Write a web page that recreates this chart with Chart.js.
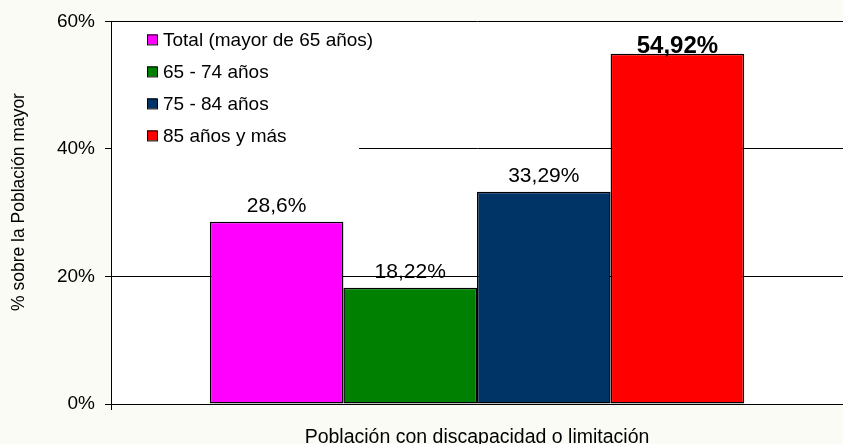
<!DOCTYPE html>
<html>
<head>
<meta charset="utf-8">
<script src="https://cdn.jsdelivr.net/npm/chart.js@4"></script>
<style>
    html, body { margin: 0; padding: 0; background: #fbfbf6; }
    canvas { display: block; }
</style>
</head>
<body>
<canvas id="chart" width="843" height="444"></canvas>
<script>
// Datos
const categories = ['Población con discapacidad o limitación'];
const seriesNames = ['Total (mayor de 65 años)', '65 - 74 años', '75 - 84 años', '85 años y más'];
const seriesValues = [28.6, 18.22, 33.29, 54.92];
const seriesColors = ['#ff00ff', '#008000', '#003366', '#ff0000'];
const yTicks = [0, 20, 40, 60];
const yTitle = '% sobre la Población mayor';

const FONT = "'Liberation Sans', Arial, sans-serif";
Chart.defaults.font.family = FONT;
Chart.defaults.color = '#000';

function formatValue(v) { return v.toString().replace('.', ',') + '%'; }

// Fondo blanco del área de trazado
const plotBackground = {
    id: 'plotBackground',
    beforeDraw(chart) {
        const { ctx, chartArea: a } = chart;
        ctx.save();
        ctx.fillStyle = '#ffffff';
        ctx.fillRect(a.left, a.top, a.right - a.left, a.bottom - a.top);
        ctx.restore();
    }
};

// Leyenda dentro del área
const insideLegend = {
    id: 'insideLegend',
    beforeDatasetsDraw(chart) {
        const { ctx, chartArea: a } = chart;
        ctx.save();
        ctx.fillStyle = '#ffffff';
        ctx.fillRect(a.left + 1, a.top + 2, 247, 152);
        ctx.font = '19px ' + FONT;
        ctx.textBaseline = 'middle';
        ctx.textAlign = 'left';
        chart.data.datasets.forEach((ds, i) => {
            const y = a.top + 18 + i * 32;
            ctx.fillStyle = ds.backgroundColor;
            ctx.fillRect(a.left + 36, y - 5, 10, 10);
            ctx.strokeStyle = '#000';
            ctx.lineWidth = 1;
            ctx.strokeRect(a.left + 36.5, y - 4.5, 10, 10);
            ctx.fillStyle = '#000';
            ctx.fillText(ds.label, a.left + 52, y + 1);
        });
        ctx.restore();
    }
};

// Etiquetas de valores y título del eje Y
const valueLabels = {
    id: 'valueLabels',
    afterDatasetsDraw(chart) {
        const { ctx } = chart;
        const maxVal = Math.max(...seriesValues);
        ctx.save();
        ctx.fillStyle = '#000';
        ctx.textAlign = 'center';
        ctx.textBaseline = 'alphabetic';
        chart.data.datasets.forEach((ds, i) => {
            const bar = chart.getDatasetMeta(i).data[0];
            const v = ds.data[0];
            const bold = v === maxVal;
            ctx.font = (bold ? 'bold 24px ' : '21px ') + FONT;
            ctx.fillText(formatValue(v), bar.x, bar.y - (bold ? 1 : 10));
        });
        ctx.translate(19, 202);
        ctx.rotate(-Math.PI / 2);
        ctx.font = '17.5px ' + FONT;
        ctx.textBaseline = 'middle';
        ctx.fillText(yTitle, 0, 0);
        ctx.restore();
    }
};

new Chart(document.getElementById('chart'), {
    type: 'bar',
    data: {
        labels: categories,
        datasets: seriesNames.map((name, i) => ({
            label: name,
            data: [seriesValues[i]],
            backgroundColor: seriesColors[i],
            borderColor: '#000',
            borderWidth: 1.5,
            borderSkipped: false,
            categoryPercentage: 0.73,
            barPercentage: 1.0
        }))
    },
    options: {
        responsive: false,
        animation: false,
        layout: { padding: { top: 21, right: 0, left: 0, bottom: 0 } },
        plugins: { legend: { display: false }, tooltip: { enabled: false } },
        scales: {
            x: {
                grid: { drawOnChartArea: false, color: '#000', tickLength: 6 },
                border: { color: '#000', width: 1 },
                ticks: { font: { size: 19.5 }, color: '#000', padding: 16, maxRotation: 0 },
                afterFit(scale) { scale.height = 40; }
            },
            y: {
                min: 0,
                max: 60,
                afterBuildTicks(scale) { scale.ticks = yTicks.map(v => ({ value: v })); },
                grid: { color: '#000', lineWidth: 1, tickLength: 6 },
                border: { color: '#000', width: 1 },
                ticks: { font: { size: 19 }, color: '#000', padding: 10, callback: v => v + '%' },
                afterFit(scale) { scale.width = 111; }
            }
        }
    },
    plugins: [plotBackground, insideLegend, valueLabels]
});
</script>
</body>
</html>
